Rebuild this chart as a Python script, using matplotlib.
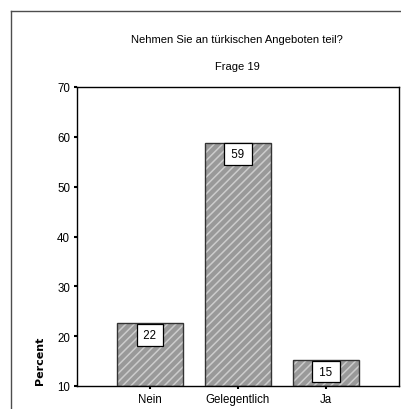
import matplotlib.pyplot as plt
import numpy as np

# data
categories = ['Nein', 'Gelegentlich', 'Ja']
percent = [22.6, 58.8, 15.2]
labels = ['22', '59', '15']
yticks = [10, 20, 30, 40, 50, 60, 70]

title1 = 'Nehmen Sie an türkischen Angeboten teil?'
title2 = 'Frage 19'

plt.rcParams['font.family'] = ['Liberation Sans', 'DejaVu Sans']
plt.rcParams['hatch.linewidth'] = 1.1

W, H = 401, 410
fig = plt.figure(figsize=(W / 100., H / 100.), dpi=100)

# outer frame (left and top only visible)
fig.add_artist(plt.Line2D([11 / W, 11 / W], [0, 1 - 12 / H], color='0.3', lw=1.0))
fig.add_artist(plt.Line2D([11 / W, 1], [1 - 12 / H, 1 - 12 / H], color='0.3', lw=1.0))

# axes box: x 77..399, y 88..387 (pixels)
ax = fig.add_axes([77 / W, 1 - 387 / H, (399 - 77) / W, (387 - 88) / H])

x = np.arange(len(categories))
ax.bar(x, np.array(percent) - 10, bottom=10, width=0.74,
       color='#999999', edgecolor='#cccccc', hatch='////', lw=0, zorder=2)
ax.bar(x, np.array(percent) - 10, bottom=10, width=0.74,
       fill=False, edgecolor='0.2', lw=1.0, zorder=3)

for xi, val, lab in zip(x, percent, labels):
    ax.text(xi, val - 2.3, '\u2009' + lab + '\u2009', ha='center', va='center',
            fontsize=8.3, zorder=4,
            bbox=dict(boxstyle='square,pad=0.42', fc='white', ec='black', lw=0.9))

ax.set_xlim(-0.83, 2.83)
ax.set_ylim(10, 70)
ax.set_yticks(yticks)
ax.set_xticks(x)
ax.set_xticklabels(categories)
ax.tick_params(axis='both', direction='out', length=2, width=1.5, labelsize=8.3, pad=3)
for s in ax.spines.values():
    s.set_linewidth(1.0)

fig.text(40 / W, 1 - 361 / H, 'Percent', rotation=90, fontsize=8, fontweight='bold',
         family='DejaVu Sans', ha='center', va='center')

fig.text(237 / W, 1 - 40 / H, title1, ha='center', va='center', fontsize=8)
fig.text(237 / W, 1 - 67 / H, title2, ha='center', va='center', fontsize=8)

fig.savefig('out.png', dpi=100)
